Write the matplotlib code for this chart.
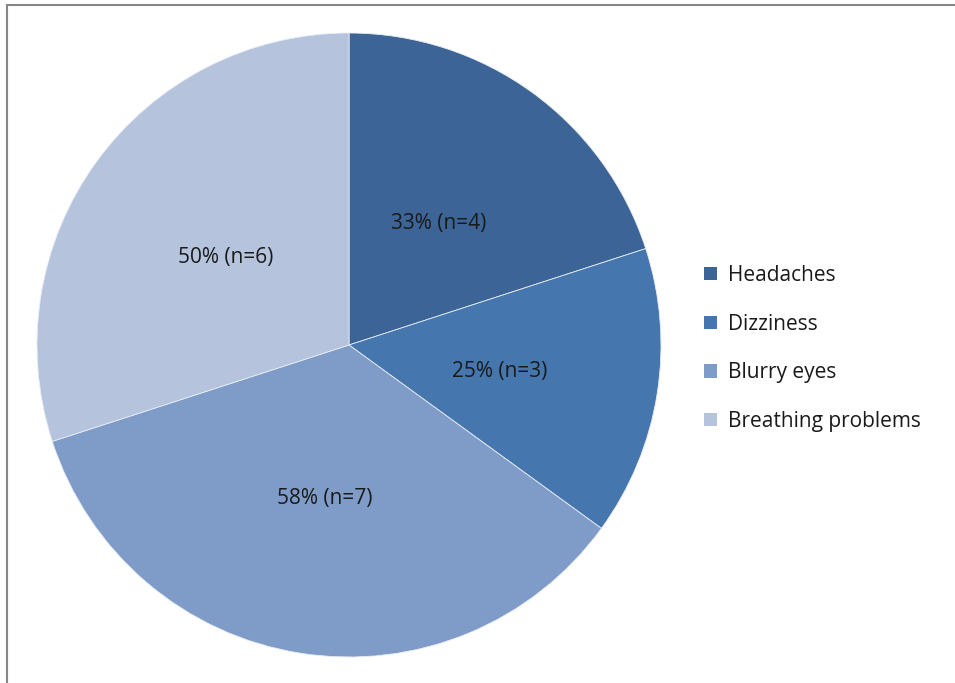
import matplotlib
matplotlib.use("Agg")
import matplotlib.pyplot as plt
from matplotlib.patches import Rectangle

# Symptom counts
symptoms = ['Headaches', 'Dizziness', 'Blurry eyes', 'Breathing problems']
counts = [4, 3, 7, 6]
slice_labels = ['33% (n=4)', '25% (n=3)', '58% (n=7)', '50% (n=6)']
colors = ['#3C6496', '#4676AE', '#7F9CC8', '#B5C3DD']

plt.rcParams['font.family'] = ['Open Sans', 'DejaVu Sans']

fig = plt.figure(figsize=(9.55, 6.83), dpi=100)

# Gray chart-area border, clipped at right and bottom like the original
fig.patches.append(Rectangle((6.5 / 955, -0.05), 1.1, 1 - 4.5 / 683 + 0.05,
                             transform=fig.transFigure, fill=False,
                             edgecolor='#868686', linewidth=1.5))

# Pie axes: centre at (349, 345) px, radius ~312 px
ax = fig.add_axes([37 / 955, 26 / 683, 624 / 955, 624 / 683])
wedges, texts = ax.pie(counts, labels=slice_labels, colors=colors,
                       startangle=90, counterclock=False, radius=1,
                       labeldistance=0.49,
                       wedgeprops=dict(edgecolor='#E8EDF5', linewidth=0.6),
                       textprops=dict(fontsize=15, color='#1A1A1A'))
for t in texts:
    t.set_horizontalalignment('center')
    t.set_verticalalignment('center_baseline')
ax.set_xlim(-1, 1)
ax.set_ylim(-1, 1)
ax.set_aspect('equal')

leg = fig.legend(wedges, symptoms, loc='upper left',
                 bbox_to_anchor=(704 / 955, 1 - 265 / 683),
                 frameon=False, fontsize=15, labelcolor='#1A1A1A',
                 handlelength=0.6, handleheight=0.6, handletextpad=0.55,
                 labelspacing=1.33, borderpad=0, borderaxespad=0)
for h in leg.legend_handles:
    h.set_edgecolor('none')

fig.savefig('out.png', dpi=100)
